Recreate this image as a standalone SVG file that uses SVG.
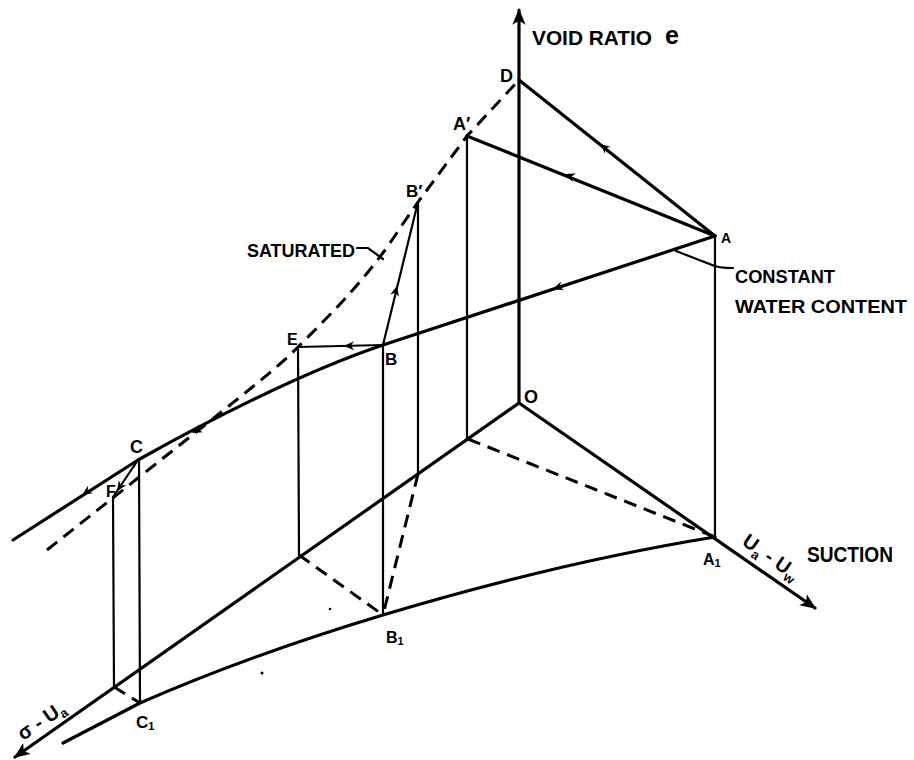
<svg xmlns="http://www.w3.org/2000/svg" width="914" height="760" viewBox="0 0 914 760">
<style>
.bg{fill:#fff}
.thick{fill:none;stroke:#000;stroke-width:3.2;stroke-linecap:round;stroke-linejoin:round}
.thin{fill:none;stroke:#000;stroke-width:2.2;stroke-linecap:round}
.dash{fill:none;stroke:#000;stroke-width:3;stroke-dasharray:13 8}
.lbl{font-family:"Liberation Sans","DejaVu Sans",sans-serif;font-weight:bold;fill:#000}
.ah{fill:#000}
</style>
<defs>
<path id="ar" d="M0,0 L-10,-4.5 L-7,0 L-10,4.5 Z"/>
<marker id="axh" viewBox="0 0 12 10" refX="11" refY="5" markerWidth="5" markerHeight="4.5" orient="auto" markerUnits="strokeWidth">
<path d="M0,0 L12,5 L0,10 L3,5 Z" fill="#000"/>
</marker>
</defs>
<rect class="bg" x="0" y="0" width="914" height="760"/>

<g id="connectors">
<!-- axes -->
<line class="thick" x1="519" y1="403" x2="519" y2="10" marker-end="url(#axh)"/>
<line class="thick" x1="519" y1="403" x2="815" y2="608" marker-end="url(#axh)"/>
<line class="thick" x1="519" y1="403" x2="15" y2="757" marker-end="url(#axh)"/>
<!-- upper solid lines -->
<line class="thick" x1="519" y1="80" x2="715" y2="236"/>
<line class="thick" x1="467" y1="136" x2="715" y2="236"/>
<!-- constant water content curve -->
<path class="thick" d="M715,236 L383,345 C300,373 200,425 138,460 L13,540"/>
<!-- lower curve -->
<path class="thick" d="M715,537 Q560,562 383,615 Q250,655 140,703 L63,743"/>
<!-- verticals -->
<line class="thin" x1="715" y1="236" x2="715" y2="537"/>
<line class="thin" x1="467" y1="136" x2="467" y2="439"/>
<line class="thin" x1="418" y1="202" x2="418" y2="474"/>
<line class="thin" x1="383" y1="345" x2="383" y2="615"/>
<line class="thin" x1="298" y1="347" x2="299" y2="555"/>
<line class="thin" x1="139" y1="460" x2="140" y2="703"/>
<line class="thin" x1="113" y1="497" x2="114" y2="687"/>
<!-- wetting paths -->
<line class="thin" x1="383" y1="345" x2="298" y2="347"/>
<line class="thin" x1="383" y1="345" x2="418" y2="202"/>
<line class="thin" x1="138" y1="460" x2="113" y2="497"/>
<!-- saturated dashed curve -->
<path class="dash" d="M47,550 L205,425 C245,393 275,370 298,347 C335,310 370,275 400,228 L418,202 L467,136 L519,80"/>
<!-- dashed base lines -->
<line class="dash" x1="468" y1="439" x2="715" y2="537"/>
<line class="dash" x1="418" y1="474" x2="383" y2="615"/>
<line class="dash" x1="299" y1="555" x2="383" y2="615"/>
<line class="dash" x1="114" y1="687" x2="140" y2="703" stroke-dasharray="9 6"/>
<!-- leaders -->
<path class="thin" d="M357,248 L368,248 L383,259"/>
<path class="thin" d="M676,251 L712,265 Q718,268 733,268"/>
<!-- arrowheads on paths -->
<use href="#ar" class="ah" transform="translate(600,144) rotate(218.5)"/>
<use href="#ar" class="ah" transform="translate(565,174) rotate(202)"/>
<use href="#ar" class="ah" transform="translate(553,289) rotate(161.8)"/>
<use href="#ar" class="ah" transform="translate(192,433) rotate(152)"/>
<use href="#ar" class="ah" transform="translate(82,495) rotate(147)"/>
<use href="#ar" class="ah" transform="translate(344,346) rotate(178.6)"/>
<use href="#ar" class="ah" transform="translate(397,286) rotate(-76)"/>
<use href="#ar" class="ah" transform="translate(117,491) rotate(124)"/>
</g>

<g id="axis-e">
<text class="lbl" x="532" y="45" font-size="20" textLength="120" lengthAdjust="spacingAndGlyphs">VOID RATIO</text>
<text class="lbl" x="665" y="44" font-size="25">e</text>
</g>
<g id="axis-suction">
<text class="lbl" font-size="20" transform="translate(741,544) rotate(35)">U<tspan font-size="13" dy="5">a</tspan><tspan dy="-5"> - U</tspan><tspan font-size="13" dy="5">w</tspan></text>
<text class="lbl" x="807" y="562" font-size="22" textLength="86" lengthAdjust="spacingAndGlyphs">SUCTION</text>
</g>
<g id="axis-stress">
<text class="lbl" font-size="20" transform="translate(23,741) rotate(-34)">σ - U<tspan font-size="13" dy="4">a</tspan></text>
</g>
<g id="node-D"><text class="lbl" x="500" y="82" font-size="18">D</text></g>
<g id="node-A1p"><text class="lbl" x="453" y="130" font-size="18">A′</text></g>
<g id="node-B1p"><text class="lbl" x="406" y="197" font-size="17">B′</text></g>
<g id="node-A"><text class="lbl" x="721" y="243" font-size="14">A</text></g>
<g id="node-E"><text class="lbl" x="287" y="345" font-size="16">E</text></g>
<g id="node-B"><text class="lbl" x="385" y="365" font-size="17">B</text></g>
<g id="node-C"><text class="lbl" x="130" y="453" font-size="18">C</text></g>
<g id="node-F"><text class="lbl" x="106" y="497" font-size="16">F</text></g>
<g id="node-O"><text class="lbl" x="524" y="403" font-size="18">O</text></g>
<g id="node-A1"><text class="lbl" x="703" y="565" font-size="16">A<tspan font-size="11" dy="2">1</tspan></text></g>
<g id="node-B1"><text class="lbl" x="386" y="643" font-size="16">B<tspan font-size="11" dy="2">1</tspan></text></g>
<g id="node-C1"><text class="lbl" x="136" y="728" font-size="17">C<tspan font-size="11" dy="2">1</tspan></text></g>
<g id="label-saturated"><text class="lbl" x="247" y="257" font-size="19" textLength="108" lengthAdjust="spacingAndGlyphs">SATURATED</text></g>
<g id="label-cwc">
<text class="lbl" x="735" y="283" font-size="19" textLength="100" lengthAdjust="spacingAndGlyphs">CONSTANT</text>
<text class="lbl" x="735" y="313" font-size="19" textLength="172" lengthAdjust="spacingAndGlyphs">WATER CONTENT</text>
</g>
<g id="specks">
<circle cx="262" cy="673" r="1.5"/>
<circle cx="330" cy="609" r="1.3"/>
</g>
</svg>
